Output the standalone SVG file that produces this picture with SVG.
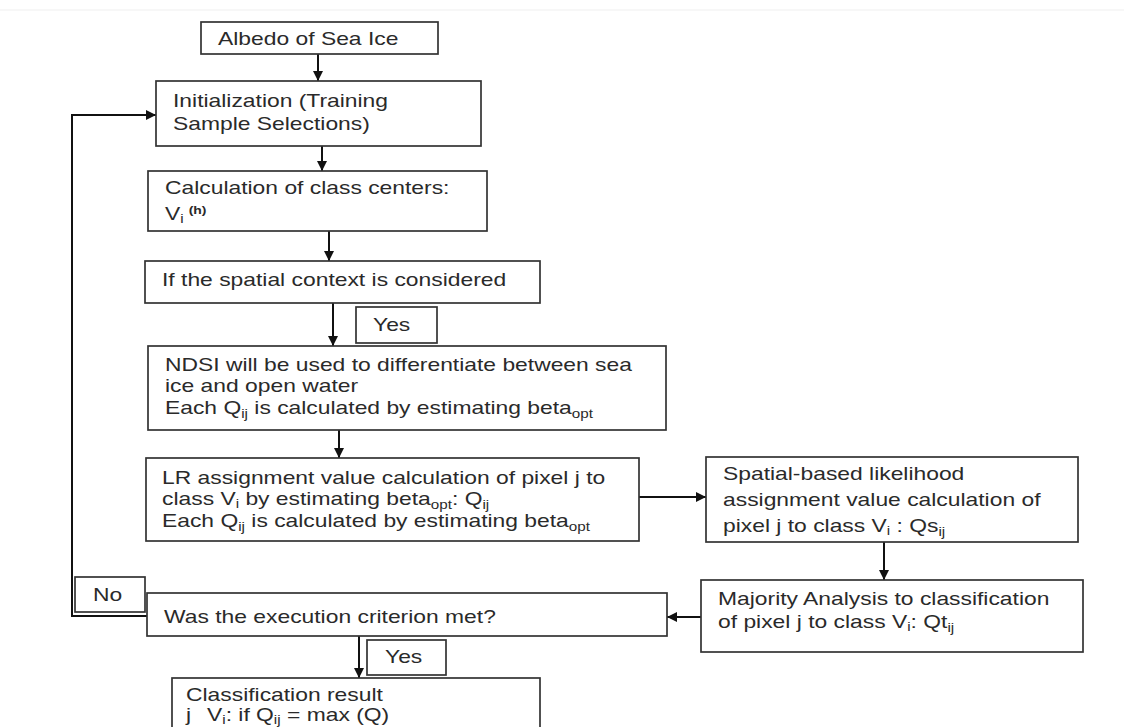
<svg xmlns="http://www.w3.org/2000/svg" width="1124" height="727" viewBox="0 0 1124 727">
<defs>
<marker id="ah" markerUnits="userSpaceOnUse" markerWidth="10" markerHeight="10" refX="10" refY="5" orient="auto">
<path d="M0,0 L10,5 L0,10 z" fill="#111"/>
</marker>
<style>
.box{fill:#fff;stroke:#333;stroke-width:1.7}
.t{font-family:"Liberation Sans",Arial,sans-serif;font-size:18px;fill:#2a2a2a}
.sub{font-size:12px}
.sup{font-size:11px;font-weight:bold}
.c{fill:none;stroke:#111;stroke-width:2}
</style>
</defs>
<rect width="1124" height="727" fill="#fff"/>
<line x1="0" y1="10" x2="1124" y2="10" stroke="#efefef" stroke-width="1"/>

<g id="connectors">
<line class="c" x1="318" y1="54" x2="318" y2="81" marker-end="url(#ah)"/>
<line class="c" x1="322" y1="146" x2="322" y2="171" marker-end="url(#ah)"/>
<line class="c" x1="329" y1="231" x2="329" y2="261" marker-end="url(#ah)"/>
<line class="c" x1="333" y1="303" x2="333" y2="346" marker-end="url(#ah)"/>
<line class="c" x1="339" y1="430" x2="339" y2="458" marker-end="url(#ah)"/>
<line class="c" x1="639" y1="497" x2="706" y2="497" marker-end="url(#ah)"/>
<line class="c" x1="884" y1="542" x2="884" y2="580" marker-end="url(#ah)"/>
<line class="c" x1="701" y1="617" x2="667" y2="617" marker-end="url(#ah)"/>
<line class="c" x1="359" y1="636" x2="359" y2="678" marker-end="url(#ah)"/>
<polyline class="c" points="147,616 72,616 72,115 156,115" stroke-width="2.2" marker-end="url(#ah)"/>
</g>

<g id="albedo">
<rect class="box" x="201" y="22" width="237" height="32"/>
<text class="t" transform="translate(218 45) scale(1.27 1)">Albedo of Sea Ice</text>
</g>

<g id="init">
<rect class="box" x="156" y="81" width="325" height="65"/>
<text class="t" transform="translate(173 107) scale(1.27 1)">Initialization (Training</text>
<text class="t" transform="translate(173 130) scale(1.27 1)">Sample Selections)</text>
</g>

<g id="centers">
<rect class="box" x="148" y="171" width="339" height="60"/>
<text class="t" transform="translate(165 194) scale(1.27 1)">Calculation of class centers:</text>
<text class="t" transform="translate(165 220) scale(1.27 1)">V<tspan class="sub" dy="3">i</tspan><tspan class="sup" dx="4" dy="-9">(h)</tspan></text>
</g>

<g id="spatialq">
<rect class="box" x="145" y="261" width="395" height="42"/>
<text class="t" transform="translate(162 286) scale(1.27 1)">If the spatial context is considered</text>
</g>

<g id="yes1">
<rect class="box" x="356" y="307" width="81" height="36"/>
<text class="t" transform="translate(373 331) scale(1.27 1)">Yes</text>
</g>

<g id="ndsi">
<rect class="box" x="148" y="346" width="518" height="84"/>
<text class="t" transform="translate(165 371) scale(1.27 1)">NDSI will be used to differentiate between sea</text>
<text class="t" transform="translate(165 392) scale(1.27 1)">ice and open water</text>
<text class="t" transform="translate(165 414) scale(1.27 1)">Each Q<tspan class="sub" dy="4">ij</tspan><tspan dy="-4"> is calculated by estimating beta</tspan><tspan class="sub" dy="4">opt</tspan></text>
</g>

<g id="lr">
<rect class="box" x="146" y="458" width="493" height="83"/>
<text class="t" transform="translate(162 484) scale(1.27 1)">LR assignment value calculation of pixel j to</text>
<text class="t" transform="translate(162 505) scale(1.27 1)">class V<tspan class="sub" dy="3">i</tspan><tspan dy="-3"> by estimating beta</tspan><tspan class="sub" dy="4">opt</tspan><tspan dy="-4">: Q</tspan><tspan class="sub" dy="4">ij</tspan></text>
<text class="t" transform="translate(162 527) scale(1.27 1)">Each Q<tspan class="sub" dy="4">ij</tspan><tspan dy="-4"> is calculated by estimating beta</tspan><tspan class="sub" dy="4">opt</tspan></text>
</g>

<g id="spatial">
<rect class="box" x="706" y="457" width="372" height="85"/>
<text class="t" transform="translate(723 480) scale(1.27 1)">Spatial-based likelihood</text>
<text class="t" transform="translate(723 506) scale(1.27 1)">assignment value calculation of</text>
<text class="t" transform="translate(723 532) scale(1.27 1)">pixel j to class V<tspan class="sub" dy="3">i</tspan><tspan dy="-3"> : Qs</tspan><tspan class="sub" dy="4">ij</tspan></text>
</g>

<g id="majority">
<rect class="box" x="701" y="580" width="382" height="72"/>
<text class="t" transform="translate(718 605) scale(1.27 1)">Majority Analysis to classification</text>
<text class="t" transform="translate(718 628) scale(1.27 1)">of pixel j to class V<tspan class="sub" dy="3">i</tspan><tspan dy="-3">: Qt</tspan><tspan class="sub" dy="4">ij</tspan></text>
</g>

<g id="criterion">
<rect class="box" x="147" y="593" width="520" height="43"/>
<text class="t" transform="translate(164 623) scale(1.27 1)">Was the execution criterion met?</text>
</g>

<g id="no">
<rect class="box" x="75" y="577" width="70" height="35"/>
<text class="t" transform="translate(93 601) scale(1.27 1)">No</text>
</g>

<g id="yes2">
<rect class="box" x="367" y="640" width="79" height="35"/>
<text class="t" transform="translate(385 663) scale(1.27 1)">Yes</text>
</g>

<g id="result">
<rect class="box" x="172" y="678" width="368" height="70"/>
<text class="t" transform="translate(186 701) scale(1.27 1)">Classification result</text>
<text class="t" transform="translate(186 721) scale(1.27 1)">j</text>
<text class="t" transform="translate(207 721) scale(1.27 1)">V<tspan class="sub" dy="3">i</tspan><tspan dy="-3">: if Q</tspan><tspan class="sub" dy="3">ij</tspan><tspan dy="-3"> = max (Q)</tspan></text>
</g>
</svg>
